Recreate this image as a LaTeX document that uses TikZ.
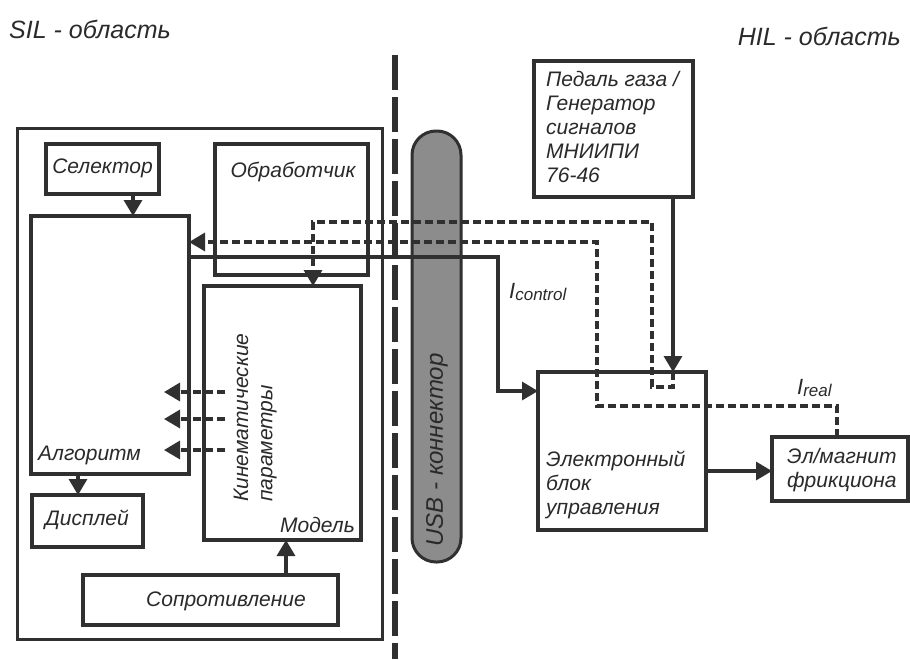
\documentclass[tikz,border=0pt]{standalone}
\usepackage{fontspec}
\setmainfont{Liberation Sans}
\usetikzlibrary{arrows.meta}
\definecolor{lc}{HTML}{303030}
\definecolor{tc}{HTML}{2A2A2A}
\definecolor{usbfill}{HTML}{8C8C8C}
\begin{document}
\begin{tikzpicture}[x=1pt,y=-1pt,
  box/.style={draw=lc, line width=3.3pt, fill=none, inner sep=0pt, outer sep=0pt},
  txt/.style={font=\fontsize{21}{24}\selectfont\itshape, text=tc, inner sep=0pt, align=left},
  big/.style={font=\fontsize{25}{28}\selectfont\itshape, text=tc, inner sep=0pt},
  arr/.style={line width=3.3pt, draw=lc, -{Triangle[length=16pt,width=18pt]}},
  dline/.style={line width=3.3pt, draw=lc, dash pattern=on 8pt off 4pt},
  darr/.style={dline, -{Triangle[length=16pt,width=18pt]}},
  sep/.style={line width=6pt, draw=lc, dash pattern=on 35pt off 7pt}
]
\useasboundingbox (0,0) rectangle (910,659);
\fill[white] (0,0) rectangle (910,659);

% USB connector
\node[draw=lc, line width=3pt, fill=usbfill, rounded corners=24pt,
      minimum width=49pt, minimum height=431pt, inner sep=0pt] (usb) at (436.5,346.5) {};
\node[txt, rotate=90, font=\fontsize{24}{26}\selectfont\itshape] (usbt) at (437,450) {USB - коннектор};

% separator
\coordinate (septop) at (395,55);
\coordinate (sepbot) at (395,659);
\draw[sep] (septop) -- (sepbot);

% titles
\node[big, anchor=west] (sil) at (9,29) {SIL - область};
\node[big, anchor=east] (hil) at (901,36) {HIL - область};

% boxes
\node[box, line width=3pt, minimum width=365pt, minimum height=511pt] (outer) at (199.5,383.5) {};
\node[box, minimum width=113pt, minimum height=50pt] (sel) at (102.5,169) {};
\node[box, minimum width=158pt, minimum height=258pt] (alg) at (110,345) {};
\node[box, minimum width=153pt, minimum height=131pt] (obr) at (291.5,209.5) {};
\node[box, minimum width=157pt, minimum height=254pt] (mod) at (282.5,413) {};
\node[box, minimum width=111pt, minimum height=52pt] (disp) at (87.5,521) {};
\node[box, minimum width=255pt, minimum height=50pt] (sop) at (210.5,600) {};
\node[box, minimum width=159pt, minimum height=136pt] (ped) at (613.5,129) {};
\node[box, minimum width=168pt, minimum height=158pt] (ebu) at (622,451) {};
\node[box, minimum width=136pt, minimum height=64pt] (mag) at (840,469) {};

% texts
\node[txt] (selt) at (102.5,168) {Селектор};
\node[txt] (obrt) at (293,172) {Обработчик};
\node[txt, anchor=west] (algt) at (38,455) {Алгоритм};
\node[txt] (dispt) at (87,520) {Дисплей};
\node[txt, anchor=east] (modt) at (355,525) {Модель};
\node[txt] (sopt) at (226,601) {Сопротивление};
\node[txt, rotate=90, anchor=west] (kin1) at (241,502) {Кинематические};
\node[txt, rotate=90, anchor=west] (kin2) at (269,502) {параметры};
\node[txt, anchor=north west] (pedt) at (546,71) {Педаль газа /\\Генератор\\сигналов\\МНИИПИ\\76-46};
\node[txt, anchor=north west] (ebut) at (546,451) {Электронный\\блок\\управления};
\node[txt, anchor=north west] (magt) at (787,448) {Эл/магнит\\фрикциона};
\node[txt, anchor=west] (icont) at (509,292) {\fontsize{22}{24}\selectfont I\raisebox{-2pt}{\fontsize{17}{20}\selectfont control}};
\node[txt, anchor=west] (ireal) at (797,388) {\fontsize{22}{24}\selectfont I\raisebox{-2pt}{\fontsize{17}{20}\selectfont real}};

% coordinates for connectors
\coordinate (xa) at (133,0);
\coordinate (xb) at (78,0);
\coordinate (xc) at (286,0);
\coordinate (xp) at (673,0);
\coordinate (ya) at (0,257);
\coordinate (yr) at (0,242);
\coordinate (ym) at (0,471);
\coordinate (c1) at (498,257);
\coordinate (c2) at (498,391);
\coordinate (yc) at (0,391);
\coordinate (l1) at (673,387);
\coordinate (l2) at (652,387);
\coordinate (l3) at (652,222);
\coordinate (l4) at (313,222);
\coordinate (r1) at (837,406);
\coordinate (r2) at (597,406);
\coordinate (r3) at (597,242);
\coordinate (k1s) at (225,392);
\coordinate (k1e) at (164,392);
\coordinate (k2s) at (225,419);
\coordinate (k2e) at (164,419);
\coordinate (k3s) at (225,450);
\coordinate (k3e) at (164,450);

% solid connectors
\draw[arr] (sel.south -| xa) -- (alg.north -| xa);
\draw[arr] (alg.south -| xb) -- (disp.north -| xb);
\draw[arr] (sop.north -| xc) -- (mod.south -| xc);
\draw[arr] (alg.east |- ya) -- (c1) -- (c2) -- (ebu.west |- yc);
\draw[arr] (ped.south -| xp) -- (ebu.north -| xp);
\draw[arr] (ebu.east |- ym) -- (mag.west |- ym);

% dashed connectors
\draw[darr] (ebu.north -| xp) -- (l1) -- (l2) -- (l3) -- (l4) -- (mod.north -| l4);
\draw[darr] (mag.north -| r1) -- (r1) -- (r2) -- (r3) -- (alg.east |- yr);
\draw[darr] (k1s) -- (k1e);
\draw[darr] (k2s) -- (k2e);
\draw[darr] (k3s) -- (k3e);
\end{tikzpicture}
\end{document}
